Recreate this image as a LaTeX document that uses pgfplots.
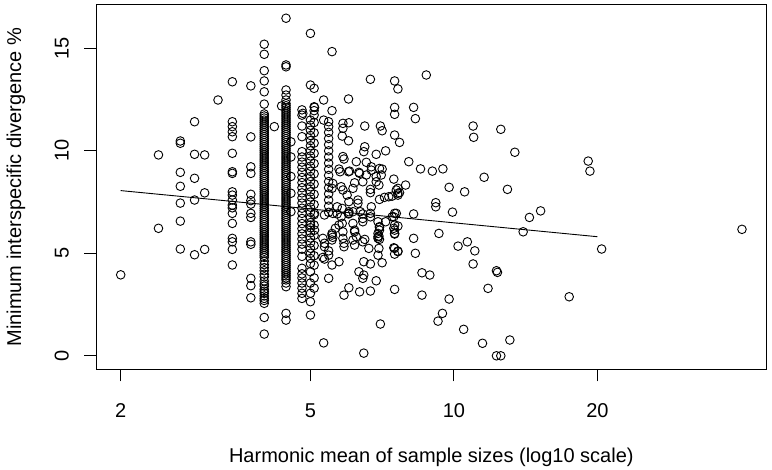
\documentclass[border=0pt]{standalone}
\usepackage{fontspec}
\setmainfont{Liberation Sans}
\usepackage{pgfplots}
\pgfplotsset{compat=1.18}
\begin{document}
\fontsize{20}{24}\selectfont
\begin{tikzpicture}
\begin{axis}[
  name=ax,
  scale only axis,
  width=670.7pt, height=364.6pt,
  xmode=log,
  xmin=1.775, xmax=45.3,
  ymin=-0.659, ymax=17.13,
  xtick={2,5,10,20}, xticklabels={2,5,10,20},
  ytick={0,5,10,15}, yticklabels={0,5,10,15},
  minor xtick={}, minor ytick={},
  xtick pos=left, ytick pos=left,
  tick align=outside,
  major tick length=12pt,
  tick style={black, line width=0.9pt},
  axis line style={black, line width=0.9pt},
  /pgf/number format/assume math mode=true,
  font=\fontsize{20}{24}\selectfont,
  xticklabel style={anchor=north, inner sep=0pt, yshift=-22pt},
  yticklabel style={xshift=-15pt, rotate=90, anchor=south, inner sep=0pt},
  xlabel={Harmonic mean of sample sizes (log10 scale)},
  ylabel={Minimum interspecific divergence \%},
  xlabel style={at={(axis description cs:0.5,0)}, anchor=base, yshift=-92.7pt, inner sep=0pt},
  ylabel style={at={(axis description cs:-0.1118,0.5)}, anchor=base, inner sep=0pt},
]
\addplot[only marks, mark=o, mark size=4.3pt, mark options={line width=0.9pt, black}] coordinates {
(2,3.95) (2.4,9.80) (2.4,6.22)
(2.667,10.48) (2.667,10.37) (2.667,8.95) (2.667,8.27) (2.667,7.45) (2.667,6.57) (2.667,5.21)
(2.857,11.42) (2.857,9.83) (2.857,8.66) (2.857,7.60) (2.857,4.93)
(3,9.80) (3,7.95) (3,5.19) (3.2,12.48)
(3.429,13.37) (3.429,11.42) (3.429,11.18) (3.429,10.93) (3.429,10.69) (3.429,9.88) (3.429,8.98) (3.429,8.90) (3.429,8.00) (3.429,7.84) (3.429,7.60) (3.429,7.35) (3.429,7.22) (3.429,6.95) (3.429,6.46) (3.429,5.73) (3.429,5.56) (3.429,5.19) (3.429,4.43)
(3.75,13.17) (3.75,10.68) (3.75,9.22) (3.75,8.90) (3.75,7.88) (3.75,7.57) (3.75,7.40) (3.75,6.95) (3.75,6.75) (3.75,5.56) (3.75,5.44) (3.75,3.78) (3.75,3.42) (3.75,2.83)
(4.2,11.18) (4.35,12.19)
(4,15.20) (4,14.71) (4,13.91) (4,13.41) (4,12.88) (4,12.28) (4,11.80) (4,11.70) (4,11.60) (4,11.50) (4,11.40) (4,11.30) (4,11.20) (4,11.10) (4,11.00) (4,10.90) (4,10.80) (4,10.70) (4,10.60) (4,10.50) (4,10.40) (4,10.30) (4,10.20) (4,10.10) (4,10.00) (4,9.90) (4,9.80) (4,9.70) (4,9.60) (4,9.50) (4,9.40) (4,9.30) (4,9.20) (4,9.10) (4,9.00) (4,8.90) (4,8.80) (4,8.70) (4,8.60) (4,8.50) (4,8.40) (4,8.30) (4,8.20) (4,8.10) (4,8.00) (4,7.90) (4,7.80) (4,7.70) (4,7.60) (4,7.50) (4,7.40) (4,7.30) (4,7.20) (4,7.10) (4,7.00) (4,6.90) (4,6.80) (4,6.70) (4,6.60) (4,6.50) (4,6.40) (4,6.30) (4,6.20) (4,6.10) (4,6.00) (4,5.90) (4,5.80) (4,5.70) (4,5.60) (4,5.50) (4,5.40) (4,5.30) (4,5.20) (4,5.10) (4,5.00) (4,4.90) (4,4.80) (4,4.62) (4,4.45) (4,4.30) (4,4.15) (4,3.98) (4,3.85) (4,3.65) (4,3.50) (4,3.40) (4,3.25) (4,3.15) (4,3.05) (4,2.92) (4,2.80) (4,2.70) (4,2.56) (4,1.87) (4,1.06)
(4.444,16.47) (4.444,14.19) (4.444,14.10) (4.444,12.97) (4.444,12.72) (4.444,12.48) (4.444,12.30) (4.444,12.20) (4.444,12.10) (4.444,12.00) (4.444,11.90) (4.444,11.80) (4.444,11.70) (4.444,11.60) (4.444,11.50) (4.444,11.40) (4.444,11.30) (4.444,11.20) (4.444,11.10) (4.444,11.00) (4.444,10.90) (4.444,10.80) (4.444,10.70) (4.444,10.60) (4.444,10.50) (4.444,10.40) (4.444,10.30) (4.444,10.20) (4.444,10.10) (4.444,10.00) (4.444,9.90) (4.444,9.80) (4.444,9.70) (4.444,9.60) (4.444,9.50) (4.444,9.40) (4.444,9.30) (4.444,9.20) (4.444,9.10) (4.444,9.00) (4.444,8.90) (4.444,8.80) (4.444,8.70) (4.444,8.60) (4.444,8.50) (4.444,8.40) (4.444,8.30) (4.444,8.20) (4.444,8.10) (4.444,8.00) (4.444,7.90) (4.444,7.80) (4.444,7.70) (4.444,7.60) (4.444,7.50) (4.444,7.40) (4.444,7.30) (4.444,7.20) (4.444,7.10) (4.444,7.00) (4.444,6.90) (4.444,6.80) (4.444,6.70) (4.444,6.60) (4.444,6.50) (4.444,6.40) (4.444,6.30) (4.444,6.20) (4.444,6.10) (4.444,6.00) (4.444,5.90) (4.444,5.80) (4.444,5.70) (4.444,5.60) (4.444,5.50) (4.444,5.40) (4.444,5.30) (4.444,5.20) (4.444,5.10) (4.444,5.00) (4.444,4.90) (4.444,4.80) (4.444,4.70) (4.444,4.60) (4.444,4.50) (4.444,4.40) (4.444,4.30) (4.444,4.20) (4.444,4.10) (4.444,4.00) (4.444,3.90) (4.444,3.80) (4.444,3.70) (4.444,3.55) (4.444,3.37) (4.444,2.07) (4.444,1.74)
(4.55,10.44) (4.55,9.70) (4.55,8.75) (4.55,7.93) (4.55,7.03)
(4.8,12.00) (4.8,11.74) (4.8,11.21) (4.8,10.69) (4.8,9.96) (4.8,9.70) (4.8,9.45) (4.8,9.20) (4.8,8.95) (4.8,8.70) (4.8,8.45) (4.8,8.20) (4.8,7.95) (4.8,7.70) (4.8,7.45) (4.8,7.20) (4.8,6.95) (4.8,6.70) (4.8,6.45) (4.8,6.20) (4.8,5.95) (4.8,5.70) (4.8,5.45) (4.8,5.20) (4.8,4.85) (4.8,4.27) (4.8,4.00) (4.8,3.80) (4.8,3.55) (4.8,3.30) (4.8,3.05) (4.8,2.80)
(5,15.73) (5,13.21) (5,11.50) (5,11.25) (5,11.00) (5,10.75) (5,10.50) (5,10.25) (5,10.00) (5,9.75) (5,9.50) (5,9.25) (5,9.00) (5,8.75) (5,8.50) (5,8.25) (5,8.00) (5,7.75) (5,7.50) (5,7.25) (5,7.00) (5,6.75) (5,6.50) (5,6.25) (5,6.00) (5,5.75) (5,5.50) (5,5.25) (5,5.00) (5,4.75) (5,4.50) (5,4.10) (5,3.55) (5,3.05) (5,2.64) (5,1.99)
(5.09,13.05) (5.09,12.15) (5.09,11.96) (5.09,11.75) (5.09,11.38) (5.09,10.88) (5.09,10.38) (5.09,9.88) (5.09,9.38) (5.09,8.88) (5.09,8.38) (5.09,7.88) (5.09,7.38) (5.09,6.88) (5.09,6.38) (5.09,5.88) (5.09,5.38) (5.09,4.88) (5.09,4.42) (5.09,3.80) (5.09,3.30)
(5.46,11.42) (5.46,11.18) (5.46,10.90) (5.46,10.60) (5.46,10.30) (5.46,10.00) (5.46,9.70) (5.46,9.40) (5.46,9.10) (5.46,8.80) (5.46,8.50) (5.46,8.20) (5.46,7.90) (5.46,7.60) (5.46,7.30) (5.46,7.00) (5.46,5.12) (5.46,4.91) (5.46,3.78)
(5.55,14.84) (6.01,12.53) (6.68,13.49) (7.51,13.41) (7.63,13.02) (8.75,13.70)
(5.33,12.48) (5.10,12.12) (5.55,11.96) (4.82,11.83)
(7.51,12.12) (7.51,11.78) (8.23,12.12) (8.30,11.57)
(10.97,11.21) (11.0,10.66) (12.54,11.05) (13.42,9.93)
(6.50,11.21) (7.01,11.21) (7.07,10.98) (7.51,10.77) (7.69,10.41) (7.19,10.0) (6.87,9.83) (6.50,10.20) (6.47,9.96)
(6.02,11.37) (5.85,11.34) (5.85,11.10) (5.33,11.5) (5.83,10.72) (6.01,10.49) (5.85,9.72) (5.88,9.60) (6.24,9.47) (6.55,9.44) (6.71,9.22) (6.71,9.06)
(8.04,9.47) (8.51,9.12) (9.01,9.01) (9.48,9.12) (11.57,8.71) (9.77,8.22) (10.53,8.0) (12.95,8.12)
(7.48,8.62) (7.92,8.33) (7.63,8.17) (7.63,7.93) (7.07,9.11) (6.87,8.74) (6.87,8.49) (6.68,8.12) (6.68,7.96)
(6.32,8.95) (6.01,8.98) (5.74,9.11) (5.77,8.98) (6.19,8.44) (6.14,8.17) (5.80,8.25) (5.85,8.09) (6.44,8.49) (6.55,8.82) (6.04,9.01) (6.34,8.90) (6.98,9.14) (7.04,8.82) (6.96,8.33)
(5.57,8.41) (5.55,8.17)
(6.98,7.63) (7.15,7.73) (7.30,7.76) (7.42,7.79) (7.57,8.09) (7.69,7.96) (7.63,7.84)
(5.97,7.84) (6.02,7.52) (6.29,7.60) (6.29,7.44) (5.69,7.27) (5.83,7.19) (6.14,7.03) (6.36,7.03) (6.71,7.27)
(9.16,7.47) (9.16,7.27) (9.93,7.01) (7.51,6.95) (8.23,6.92)
(14.4,6.75) (15.2,7.07) (13.97,6.05) (9.30,5.97) (10.2,5.35) (10.67,5.56) (11.06,5.12) (10.97,4.48)
(8.23,5.73) (8.30,5.0) (7.51,5.97) (7.48,5.27) (7.63,5.11) (8.57,4.05) (8.90,3.94) (8.57,2.96) (9.77,2.77) (9.46,2.07) (9.26,1.69) (10.48,1.29)
(12.28,4.15) (12.34,4.07) (11.79,3.29) (11.48,0.61) (13.10,0.77) (12.28,0.0) (12.54,0.0)
(7.51,3.24) (6.87,3.66) (7.01,1.55) (6.47,0.13) (5.33,0.63)
(6.02,3.32) (5.88,2.96) (6.34,3.12) (6.68,3.16) (6.32,4.10) (6.47,3.94) (6.44,3.78)
(5.74,4.59) (5.55,4.43) (6.47,4.59) (6.68,4.48) (7.07,4.54) (6.93,4.91) (6.96,5.24) (6.63,5.24) (6.44,5.56) (6.50,5.68) (6.19,5.40) (5.88,5.32) (5.88,5.49) (5.55,5.97) (5.55,5.65) (5.31,4.80) (5.35,4.72)
(6.93,5.73) (6.96,5.84) (7.48,6.22)
(6.68,6.95) (6.93,6.54) (6.98,6.30) (6.93,5.97) (6.44,6.70) (6.44,6.54) (6.14,6.46) (6.19,6.13) (5.85,6.05) (5.85,5.73)
(6.02,7.03) (6.02,6.95) (5.69,6.92) (5.80,6.78) (7.19,6.54) (7.48,6.78) (7.57,6.95)
(6.68,6.78) (6.44,6.92) (6.01,6.92) (5.57,6.95) (5.35,6.87) (5.10,6.95)
(5.74,6.38) (5.64,6.22) (5.83,6.46) (5.35,5.49) (5.35,5.32) (5.10,6.13) (5.00,6.38)
(7.51,6.38) (7.63,6.33) (7.51,5.94) (7.51,5.24) (7.63,5.08) (7.51,4.96) (7.51,6.13)
(6.98,6.13) (6.93,5.81) (6.98,5.68) (6.98,6.27) (7.42,6.78)
(6.24,5.81) (6.19,6.05) (6.14,5.65) (5.57,5.78) (5.55,5.89) (5.31,5.73)
(19.13,9.50) (19.29,9.01) (20.41,5.21) (17.45,2.88) (40.2,6.17)
};
\addplot[black, line width=0.9pt] coordinates {(2,8.06) (20,5.81)};
\end{axis}
\path ([shift={(-96pt,-100.7pt)}]ax.south west) rectangle ([shift={(5.3pt,4.7pt)}]ax.north east);
\end{tikzpicture}
\end{document}
